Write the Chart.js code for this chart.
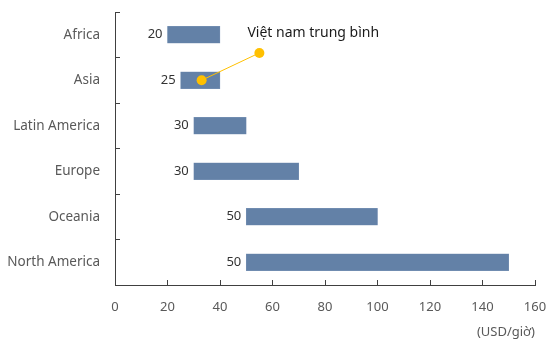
<!DOCTYPE html>
<html>
<head>
<meta charset="utf-8">
<script src="https://cdn.jsdelivr.net/npm/chart.js@4"></script>
<style>
  html, body { margin: 0; padding: 0; background: #fff; }
  #wrap { width: 547px; height: 340px; }
</style>
</head>
<body>
<div id="wrap"><canvas id="luong"></canvas></div>
<script>
// du lieu
var regions = ['Africa', 'Asia', 'Latin America', 'Europe', 'Oceania', 'North America'];
var lowValues = [20, 25, 30, 30, 50, 50];
var highValues = [40, 40, 50, 70, 100, 150];
var xTicks = [0, 20, 40, 60, 80, 100, 120, 140, 160];
var vnLabel = 'Việt nam trung bình';
var vnValue = 33;          // diem tren thanh Asia
var vnRegion = 'Asia';
var noteValue = 55;        // diem chu thich
var notePos = 0.4;         // vi tri giua Africa va Asia
var unitLabel = '(USD/giờ)';

var FONT = "'Noto Sans', sans-serif";
var AXIS = '#404040';
var TXT = '#595959';

var ranges = regions.map(function (r, i) { return [lowValues[i], highValues[i]]; });
var vnIndex = regions.indexOf(vnRegion);

// nhan gia tri ben trai moi thanh + chu thich
var labelPlugin = {
    id: 'labels',
    afterDatasetsDraw: function (chart) {
        var ctx = chart.ctx;
        var meta = chart.getDatasetMeta(0);
        ctx.save();
        ctx.font = '13px ' + FONT;
        ctx.fillStyle = '#333';
        ctx.textAlign = 'right';
        ctx.textBaseline = 'middle';
        meta.data.forEach(function (bar, i) {
            var x = chart.scales.x.getPixelForValue(lowValues[i]);
            ctx.fillText(String(lowValues[i]), x - 5, bar.y);
        });
        var nx = chart.scales.x.getPixelForValue(noteValue);
        var ny = chart.scales.y.getPixelForValue(notePos);
        ctx.font = '14px ' + FONT;
        ctx.fillStyle = '#1a1a1a';
        ctx.textAlign = 'left';
        ctx.fillText(vnLabel, nx - 12, ny - 20);
        ctx.restore();
    }
};

var ctx = document.getElementById('luong').getContext('2d');
var chart = new Chart(ctx, {
    type: 'bar',
    data: {
        labels: regions,
        datasets: [{
            data: ranges,
            order: 1,
            backgroundColor: '#6381A7',
            borderColor: '#7f97b8',
            borderWidth: 0.5,
            barThickness: 17,
            grouped: false,
            borderSkipped: false
        }, {
            type: 'line',
            order: 0,
            parsing: false,
            data: [{ x: vnValue, y: vnIndex }, { x: noteValue, y: notePos }],
            borderColor: '#FFC000',
            borderWidth: 1,
            backgroundColor: '#FFC000',
            pointRadius: 5,
            pointBorderWidth: 0,
            pointHoverRadius: 5
        }]
    },
    options: {
        indexAxis: 'y',
        responsive: true,
        maintainAspectRatio: false,
        animation: false,
        layout: { padding: { top: 12, right: 12, left: 0, bottom: 0 } },
        plugins: {
            legend: { display: false },
            tooltip: { enabled: false }
        },
        scales: {
            x: {
                type: 'linear',
                min: 0,
                max: 160,
                afterBuildTicks: function (s) {
                    s.ticks = xTicks.map(function (v) { return { value: v }; });
                },
                afterFit: function (s) {
                    s.height = 55;
                    s.paddingLeft = 0;
                    s.paddingRight = 0;
                },
                border: { color: AXIS, width: 1 },
                grid: { drawOnChartArea: false, tickLength: -5, color: AXIS },
                ticks: { color: TXT, font: { family: FONT, size: 13 }, padding: 19 },
                title: {
                    display: true,
                    text: unitLabel,
                    align: 'end',
                    color: TXT,
                    font: { family: FONT, size: 13 },
                    padding: { top: 0, bottom: 0 }
                }
            },
            y: {
                afterFit: function (s) {
                    s.width = 115;
                    s.paddingTop = 0;
                    s.paddingBottom = 0;
                },
                border: { color: AXIS, width: 1 },
                grid: { drawOnChartArea: false, tickLength: -5, color: AXIS, offset: true },
                ticks: { color: TXT, font: { family: FONT, size: 13.5 }, padding: 20 }
            }
        }
    },
    plugins: [labelPlugin]
});
</script>
</body>
</html>
